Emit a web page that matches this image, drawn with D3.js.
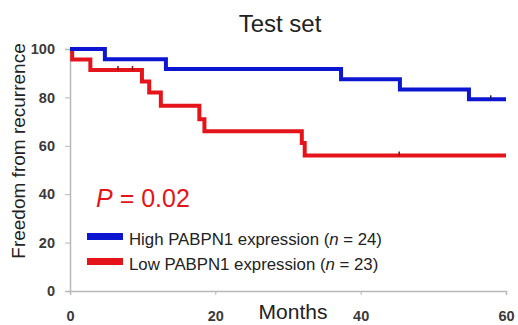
<!DOCTYPE html>
<html>
<head>
<meta charset="utf-8">
<script src="https://cdn.jsdelivr.net/npm/d3@7"></script>
<style>
  body { margin: 0; background: #fff; }
  svg { font-family: "Liberation Sans", Arial, sans-serif; }
</style>
</head>
<body>
<svg id="chart" width="518" height="325"></svg>
<script>
// step data: [month, survival %]
const highSteps = [[0, 100], [4.8, 95.8], [13.2, 91.7], [37.3, 87.5], [45.4, 83.3], [54.9, 79.2], [60, 79.2]];
const lowSteps = [[0, 100], [0.3, 95.7], [2.8, 91.3], [9.9, 86.6], [10.9, 82.0], [12.5, 76.5], [17.8, 71.0], [18.5, 66.0], [31.9, 61.2], [32.3, 56.0], [60, 56.0]];
const highCensor = [[57.9, 79.2]];
const lowCensor = [[6.6, 91.3], [8.6, 91.3], [45.3, 56.0]];
const xTicks = [0, 20, 40, 60];
const yTicks = [0, 20, 40, 60, 80, 100];
const legendLabels = [
  { name: 'High PABPN1 expression', n: 24, color: '#0c16d0' },
  { name: 'Low PABPN1 expression', n: 23, color: '#e5141a' }
];

const svg = d3.select('#chart');
const x = d3.scaleLinear().domain([0, 60]).range([70, 506]);
const y = d3.scaleLinear().domain([0, 100]).range([291, 49]);

// axes
const xAxis = svg.append('g').attr('transform', 'translate(0,291)')
  .call(d3.axisBottom(x).tickValues(xTicks).tickSize(4).tickPadding(16));
const yAxis = svg.append('g').attr('transform', 'translate(70,0)')
  .call(d3.axisLeft(y).tickValues(yTicks).tickSize(5).tickPadding(10));
[xAxis, yAxis].forEach(a => {
  a.select('.domain').attr('stroke', '#b8b8b8').attr('stroke-width', 1.5);
  a.selectAll('.tick line').attr('stroke', '#b8b8b8');
  a.selectAll('.tick text').attr('fill', '#3a3a3a')
    .style('font-size', '14.5px').style('font-weight', 'bold');
});

// curves
const line = d3.line().x(d => x(d[0])).y(d => y(d[1])).curve(d3.curveStepAfter);
svg.append('path').datum(lowSteps).attr('d', line)
  .attr('fill', 'none').attr('stroke', legendLabels[1].color).attr('stroke-width', 4);
svg.append('path').datum(highSteps).attr('d', line)
  .attr('fill', 'none').attr('stroke', legendLabels[0].color).attr('stroke-width', 4);

// censor ticks
const censor = (data, color) => svg.append('g').selectAll('line').data(data).enter().append('line')
  .attr('x1', d => x(d[0])).attr('x2', d => x(d[0]))
  .attr('y1', d => y(d[1]) - 4).attr('y2', d => y(d[1]))
  .attr('stroke', color).attr('stroke-width', 1.5);
censor(highCensor, '#1a1a60');
censor(lowCensor, '#801010');

// title + labels
svg.append('text').attr('x', 280).attr('y', 32).attr('text-anchor', 'middle')
  .style('font-size', '24px').attr('fill', '#222').text('Test set');
svg.append('text').attr('transform', 'translate(25,151) rotate(-90)').attr('text-anchor', 'middle')
  .style('font-size', '19px').attr('fill', '#222').text('Freedom from recurrence');
svg.append('text').attr('x', 293).attr('y', 319).attr('text-anchor', 'middle')
  .style('font-size', '21px').attr('fill', '#222').text('Months');

// p value
const p = svg.append('text').attr('x', 96).attr('y', 207).style('font-size', '25px').attr('fill', '#e5141a');
p.append('tspan').style('font-style', 'italic').text('P');
p.append('tspan').text(' = 0.02');

// legend
const leg = svg.append('g').selectAll('g').data(legendLabels).enter().append('g')
  .attr('transform', (d, i) => `translate(87,${233 + i * 25})`);
leg.append('rect').attr('width', 36).attr('height', 7).attr('fill', d => d.color);
const lt = leg.append('text').attr('x', 42).attr('y', 12).style('font-size', '16.8px').attr('fill', '#222');
lt.append('tspan').text(d => d.name + ' (');
lt.append('tspan').style('font-style', 'italic').text('n');
lt.append('tspan').text(d => ' = ' + d.n + ')');
</script>
</body>
</html>
